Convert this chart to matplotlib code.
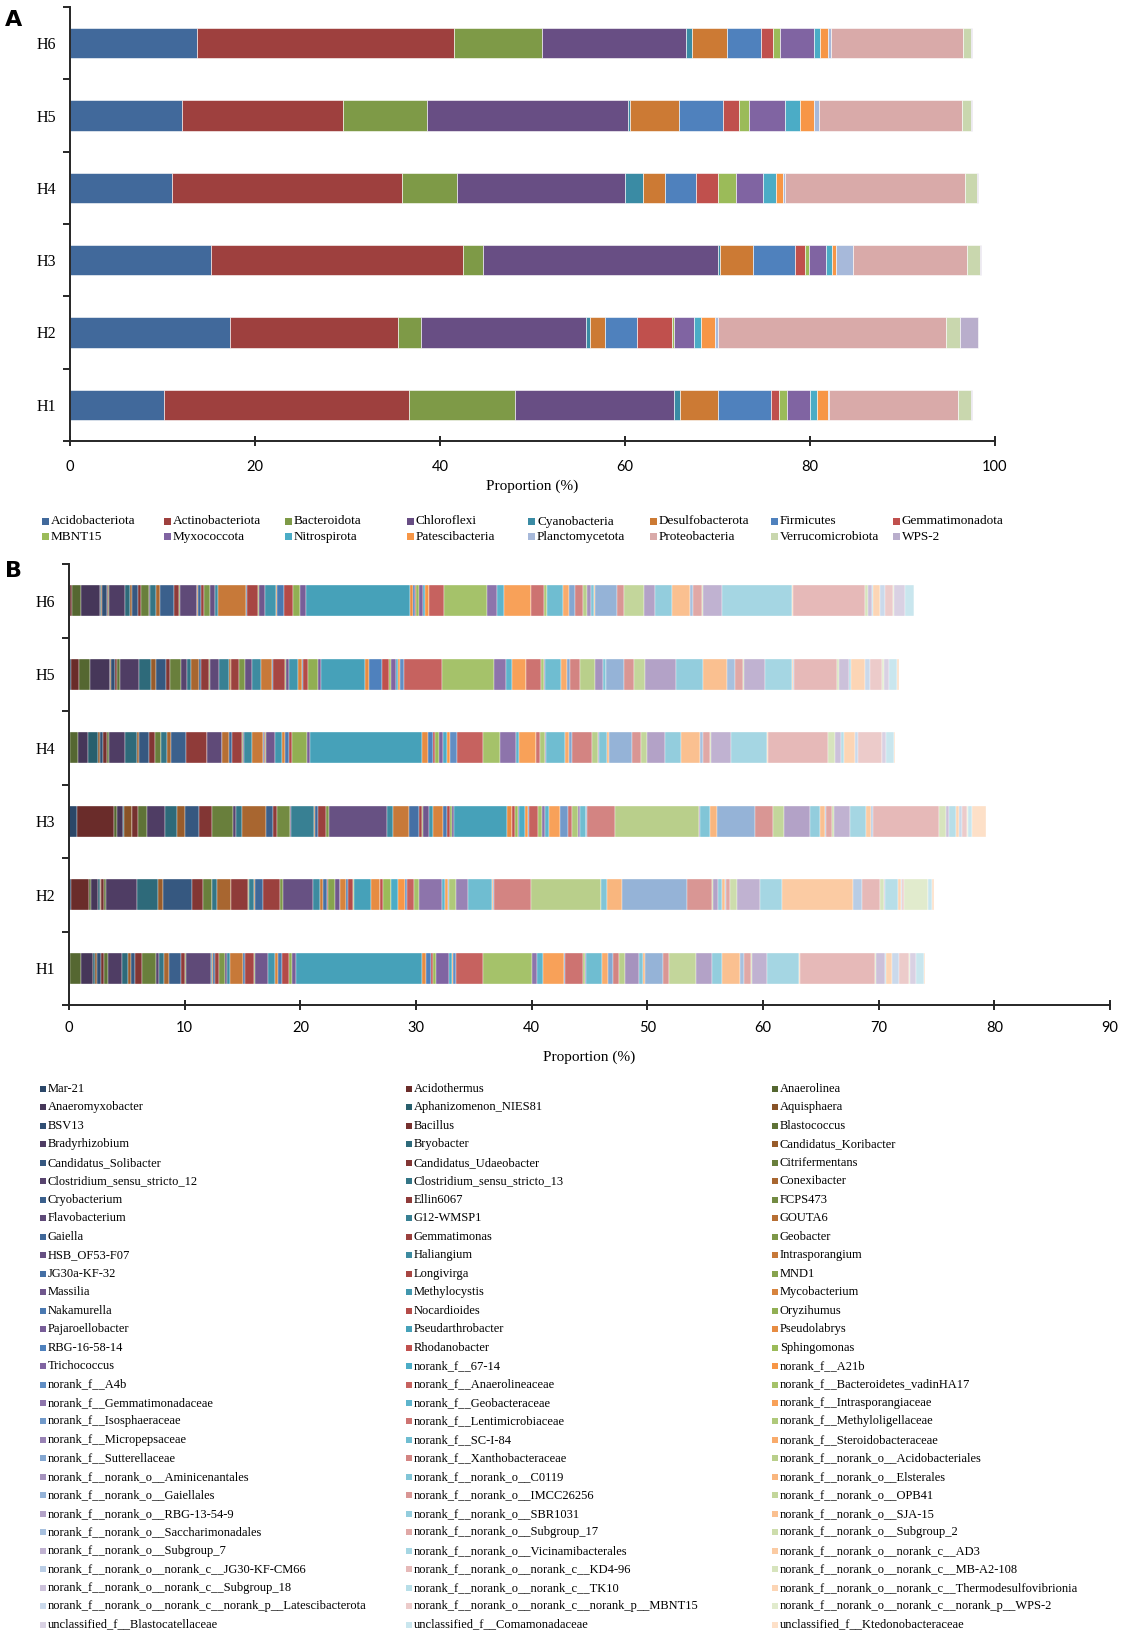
import matplotlib.pyplot as plt
import matplotlib.colors as mcolors
from matplotlib.patches import Rectangle
import numpy as np

W, H = 1125, 1637

samples = ['H1', 'H2', 'H3', 'H4', 'H5', 'H6']

# phylum level (panel A), proportion %
phyla = ['Acidobacteriota', 'Actinobacteriota', 'Bacteroidota', 'Chloroflexi',
         'Cyanobacteria', 'Desulfobacterota', 'Firmicutes', 'Gemmatimonadota',
         'MBNT15', 'Myxococcota', 'Nitrospirota', 'Patescibacteria',
         'Planctomycetota', 'Proteobacteria', 'Verrucomicrobiota', 'WPS-2']
phylum_H1 = [10.2, 26.5, 11.4, 17.2, 0.6, 4.2, 5.7, 0.9, 0.8, 2.5, 0.8, 1.1, 0.2, 13.9, 1.4, 0.1]
phylum_H2 = [17.3, 18.2, 2.5, 17.8, 0.4, 1.6, 3.5, 3.8, 0.2, 2.2, 0.7, 1.5, 0.4, 24.6, 1.5, 2.0]
phylum_H3 = [15.2, 27.3, 2.1, 25.5, 0.2, 3.5, 4.6, 1.1, 0.4, 1.8, 0.7, 0.4, 1.8, 12.4, 1.4, 0.1]
phylum_H4 = [11.0, 24.9, 5.9, 18.2, 1.9, 2.4, 3.4, 2.4, 1.9, 2.9, 1.4, 0.8, 0.2, 19.5, 1.3, 0.1]
phylum_H5 = [12.1, 17.4, 9.1, 21.7, 0.2, 5.3, 4.8, 1.7, 1.1, 3.9, 1.6, 1.5, 0.6, 15.4, 1.0, 0.1]
phylum_H6 = [13.7, 27.8, 9.5, 15.6, 0.6, 3.85, 3.65, 1.3, 0.8, 3.6, 0.7, 0.9, 0.3, 14.2, 0.9, 0.1]

# genus level (panel B), proportion %
genera = ['Mar-21', 'Acidothermus', 'Anaerolinea', 'Anaeromyxobacter', 'Aphanizomenon_NIES81',
          'Aquisphaera', 'BSV13', 'Bacillus', 'Blastococcus', 'Bradyrhizobium', 'Bryobacter',
          'Candidatus_Koribacter', 'Candidatus_Solibacter', 'Candidatus_Udaeobacter',
          'Citrifermentans', 'Clostridium_sensu_stricto_12', 'Clostridium_sensu_stricto_13',
          'Conexibacter', 'Cryobacterium', 'Ellin6067', 'FCPS473', 'Flavobacterium',
          'G12-WMSP1', 'GOUTA6', 'Gaiella', 'Gemmatimonas', 'Geobacter', 'HSB_OF53-F07',
          'Haliangium', 'Intrasporangium', 'JG30a-KF-32', 'Longivirga', 'MND1', 'Massilia',
          'Methylocystis', 'Mycobacterium', 'Nakamurella', 'Nocardioides', 'Oryzihumus',
          'Pajaroellobacter', 'Pseudarthrobacter', 'Pseudolabrys', 'RBG-16-58-14',
          'Rhodanobacter', 'Sphingomonas', 'Trichococcus', 'norank_f__67-14', 'norank_f__A21b',
          'norank_f__A4b', 'norank_f__Anaerolineaceae', 'norank_f__Bacteroidetes_vadinHA17',
          'norank_f__Gemmatimonadaceae', 'norank_f__Geobacteraceae', 'norank_f__Intrasporangiaceae',
          'norank_f__Isosphaeraceae', 'norank_f__Lentimicrobiaceae', 'norank_f__Methyloligellaceae',
          'norank_f__Micropepsaceae', 'norank_f__SC-I-84', 'norank_f__Steroidobacteraceae',
          'norank_f__Sutterellaceae', 'norank_f__Xanthobacteraceae',
          'norank_f__norank_o__Acidobacteriales', 'norank_f__norank_o__Aminicenantales',
          'norank_f__norank_o__C0119', 'norank_f__norank_o__Elsterales',
          'norank_f__norank_o__Gaiellales', 'norank_f__norank_o__IMCC26256',
          'norank_f__norank_o__OPB41', 'norank_f__norank_o__RBG-13-54-9',
          'norank_f__norank_o__SBR1031', 'norank_f__norank_o__SJA-15',
          'norank_f__norank_o__Saccharimonadales', 'norank_f__norank_o__Subgroup_17',
          'norank_f__norank_o__Subgroup_2', 'norank_f__norank_o__Subgroup_7',
          'norank_f__norank_o__Vicinamibacterales', 'norank_f__norank_o__norank_c__AD3',
          'norank_f__norank_o__norank_c__JG30-KF-CM66', 'norank_f__norank_o__norank_c__KD4-96',
          'norank_f__norank_o__norank_c__MB-A2-108', 'norank_f__norank_o__norank_c__Subgroup_18',
          'norank_f__norank_o__norank_c__TK10', 'norank_f__norank_o__norank_c__Thermodesulfovibrionia',
          'norank_f__norank_o__norank_c__norank_p__Latescibacterota',
          'norank_f__norank_o__norank_c__norank_p__MBNT15',
          'norank_f__norank_o__norank_c__norank_p__WPS-2',
          'unclassified_f__Blastocatellaceae', 'unclassified_f__Comamonadaceae',
          'unclassified_f__Ktedonobacteraceae']

genus_H1 = [0.08, 0.03, 0.93, 1.06, 0.12, 0.17, 0.40, 0.20, 0.35, 1.24,
            0.52, 0.29, 0.34, 0.58, 1.21, 0.23, 0.46, 0.40, 1.10, 0.34,
            0.05, 2.20, 0.05, 0.12, 0.12, 0.40, 0.46, 0.18, 0.29, 1.15,
            0.11, 0.81, 0.06, 1.15, 0.60, 0.29, 0.29, 0.61, 0.28, 0.35,
            10.92, 0.29, 0.43, 0.23, 0.23, 1.09, 0.26, 0.12, 0.23, 2.39,
            4.21, 0.40, 0.58, 1.78, 0.06, 1.56, 0.23, 0.05, 1.39, 0.52,
            0.40, 0.52, 0.57, 1.21, 0.35, 0.12, 1.61, 0.46, 2.36, 1.38,
            0.87, 1.61, 0.29, 0.58, 0.17, 1.27, 2.76, 0.05, 0.05, 6.47,
            0.11, 0.76, 0.11, 0.52, 0.57, 0.87, 0.06, 0.58, 0.63, 0.11]
genus_H2 = [0.17, 1.56, 0.14, 0.67, 0.14, 0.05, 0.05, 0.21, 0.18, 2.74,
            1.81, 0.40, 2.48, 1.01, 0.72, 0.05, 0.44, 1.15, 0.05, 1.48,
            0.05, 0.05, 0.42, 0.05, 0.73, 1.44, 0.23, 2.59, 0.63, 0.29,
            0.35, 0.05, 0.61, 0.43, 0.05, 0.47, 0.20, 0.43, 0.05, 0.05,
            1.43, 0.78, 0.05, 0.24, 0.63, 0.05, 0.62, 0.57, 0.20, 0.58,
            0.43, 1.96, 0.29, 0.29, 0.05, 0.05, 0.56, 1.07, 2.01, 0.15,
            0.05, 3.18, 6.05, 0.05, 0.46, 1.33, 5.64, 2.16, 0.05, 0.50,
            0.29, 0.29, 0.05, 0.35, 0.58, 2.04, 1.87, 6.20, 0.72, 1.55,
            0.38, 0.05, 1.19, 0.20, 0.10, 0.19, 2.04, 0.05, 0.36, 0.17]
genus_H3 = [0.72, 3.20, 0.20, 0.58, 0.05, 0.67, 0.05, 0.52, 0.78, 1.56,
            0.98, 0.69, 1.21, 1.12, 1.87, 0.23, 0.49, 2.07, 0.67, 0.29,
            1.15, 0.05, 2.05, 0.05, 0.30, 0.63, 0.32, 4.96, 0.52, 1.38,
            0.86, 0.29, 0.10, 0.48, 0.40, 0.87, 0.28, 0.29, 0.15, 0.20,
            4.55, 0.43, 0.05, 0.24, 0.29, 0.05, 0.53, 0.28, 0.05, 0.82,
            0.29, 0.28, 0.35, 0.95, 0.72, 0.29, 0.57, 0.15, 0.52, 0.05,
            0.05, 2.40, 7.29, 0.05, 0.93, 0.52, 3.37, 1.50, 1.00, 2.25,
            0.81, 0.43, 0.14, 0.47, 0.22, 1.39, 1.38, 0.40, 0.17, 5.71,
            0.63, 0.23, 0.58, 0.29, 0.29, 0.40, 0.06, 0.05, 0.30, 1.20]
genus_H4 = [0.05, 0.06, 0.64, 0.89, 0.87, 0.17, 0.29, 0.34, 0.18, 1.35,
            1.04, 0.17, 0.89, 0.49, 0.49, 0.05, 0.47, 0.38, 1.29, 1.79,
            0.05, 1.24, 0.05, 0.59, 0.26, 0.83, 0.15, 0.05, 0.67, 1.01,
            0.05, 0.12, 0.05, 0.78, 0.58, 0.32, 0.29, 0.25, 1.36, 0.23,
            9.71, 0.49, 0.40, 0.24, 0.28, 0.41, 0.34, 0.23, 0.64, 2.24,
            1.44, 1.36, 0.32, 1.41, 0.05, 0.32, 0.46, 0.05, 1.68, 0.29,
            0.34, 1.68, 0.54, 0.10, 0.68, 0.17, 1.96, 0.81, 0.52, 1.58,
            1.30, 1.72, 0.18, 0.69, 0.05, 1.73, 3.12, 0.05, 0.05, 5.20,
            0.57, 0.52, 0.29, 0.92, 0.23, 2.08, 0.05, 0.29, 0.75, 0.06]
genus_H5 = [0.15, 0.74, 0.92, 1.73, 0.03, 0.03, 0.38, 0.14, 0.29, 1.61,
            1.10, 0.37, 0.89, 0.38, 0.92, 0.52, 0.37, 0.64, 0.23, 0.66,
            0.06, 0.80, 0.84, 0.17, 0.03, 0.66, 0.52, 0.66, 0.75, 0.98,
            0.03, 1.10, 0.03, 0.29, 0.77, 0.32, 0.14, 0.41, 0.86, 0.23,
            3.87, 0.28, 1.16, 0.57, 0.20, 0.41, 0.17, 0.23, 0.35, 3.28,
            4.44, 1.04, 0.57, 1.15, 0.05, 1.28, 0.29, 0.05, 1.39, 0.52,
            0.29, 0.80, 1.33, 0.69, 0.23, 0.05, 1.50, 0.93, 0.94, 2.68,
            2.36, 2.08, 0.69, 0.69, 0.05, 1.79, 2.40, 0.05, 0.05, 3.79,
            0.17, 0.81, 0.23, 1.21, 0.40, 1.04, 0.17, 0.46, 0.63, 0.21]
genus_H6 = [0.05, 0.21, 0.78, 1.67, 0.08, 0.06, 0.43, 0.05, 0.13, 1.38,
            0.46, 0.17, 0.47, 0.25, 0.75, 0.10, 0.45, 0.35, 1.21, 0.46,
            0.05, 1.47, 0.05, 0.10, 0.20, 0.32, 0.52, 0.40, 0.26, 2.39,
            0.08, 1.01, 0.05, 0.53, 0.95, 0.11, 0.58, 0.78, 0.61, 0.48,
            9.03, 0.23, 0.17, 0.12, 0.22, 0.41, 0.17, 0.29, 0.06, 1.26,
            3.75, 0.81, 0.63, 2.31, 0.06, 1.09, 0.23, 0.05, 1.33, 0.52,
            0.58, 0.63, 0.35, 0.34, 0.32, 0.06, 1.95, 0.55, 1.73, 0.95,
            1.44, 1.58, 0.29, 0.78, 0.05, 1.65, 6.08, 0.05, 0.05, 6.18,
            0.28, 0.35, 0.05, 0.61, 0.44, 0.72, 0.05, 0.95, 0.78, 0.06]

phylum_data = [phylum_H1, phylum_H2, phylum_H3, phylum_H4, phylum_H5, phylum_H6]
genus_data = [genus_H1, genus_H2, genus_H3, genus_H4, genus_H5, genus_H6]

# colours (Excel-like office palette)
phylum_colors = ['#41699B', '#9E403E', '#7E9A47', '#684E84', '#3A8BA4', '#CC7A34',
                 '#4F81BD', '#C0504D', '#9BBB59', '#8064A2', '#4BACC6', '#F79646',
                 '#A7B9DA', '#D9AAA9', '#C9D7AE', '#B9AECC']
base_colors = ['#4F81BD', '#C0504D', '#9BBB59', '#8064A2', '#4BACC6', '#F79646']


def genus_color(i):
    rgb = np.array(mcolors.to_rgb(base_colors[i % 6]))
    lvl = i // 6
    if lvl < 7:
        rgb = rgb * (0.55 + 0.45 * lvl / 7)
    else:
        rgb = rgb + (1 - rgb) * 0.7 * (lvl - 7) / 7
    return rgb


genus_colors = [genus_color(i) for i in range(len(genera))]

serif = 'Liberation Serif'
sans = 'Lato'

fig = plt.figure(figsize=(W / 100, H / 100), dpi=100)


def style_axes(ax, xmax, step, tickpad, labelpad):
    ax.set_xlim(0, xmax)
    ax.set_ylim(-0.5, 5.5)
    ax.spines['top'].set_visible(False)
    ax.spines['right'].set_visible(False)
    for s in ['left', 'bottom']:
        ax.spines[s].set_linewidth(1.4)
        ax.spines[s].set_color('#262626')
    ax.set_xticks(np.arange(0, xmax + 1, step))
    ax.set_yticks(range(6))
    ax.set_yticklabels(samples, fontfamily=serif, fontsize=11.5)
    ax.set_yticks(np.arange(-0.5, 6, 1), minor=True)
    ax.tick_params(axis='y', which='major', length=0, pad=10)
    ax.tick_params(axis='y', which='minor', length=5, width=1.4, color='#262626')
    ax.tick_params(axis='x', direction='inout', length=7, width=1.4,
                   color='#262626', pad=tickpad)
    for t in ax.get_xticklabels():
        t.set_fontfamily(sans)
        t.set_fontsize(10.5)
    ax.set_xlabel('Proportion (%)', fontfamily=serif, fontsize=11, labelpad=labelpad)


def stacked(ax, data, colors, lw):
    y = np.arange(len(samples))
    left = np.zeros(len(samples))
    for j in range(len(colors)):
        vals = np.array([d[j] for d in data])
        ax.barh(y, vals, left=left, height=0.42, color=colors[j],
                edgecolor='white', linewidth=lw)
        left += vals


# panel A
axA = fig.add_axes([70 / W, 1 - 441 / H, 925 / W, 434 / H])
stacked(axA, phylum_data, phylum_colors, 0.4)
style_axes(axA, 100, 20, tickpad=10, labelpad=4)
fig.text(5 / W, 1 - 20 / H, 'A', fontsize=16, fontweight='bold', va='center')

# panel A legend, 8 columns x 2 rows, filled row by row
for k, name in enumerate(phyla):
    x = 42 + (k % 8) * 121.5
    y = 521.5 + (k // 8) * 15.3
    fig.add_artist(Rectangle((x / W, 1 - (y + 3.5) / H), 7 / W, 7 / H,
                             transform=fig.transFigure, facecolor=phylum_colors[k],
                             edgecolor='none'))
    fig.text((x + 9) / W, 1 - y / H, name, fontfamily=serif, fontsize=9.5,
             va='center', ha='left')

# panel B
axB = fig.add_axes([69 / W, 1 - 1005 / H, 1041 / W, 441 / H])
stacked(axB, genus_data, genus_colors, 0.25)
style_axes(axB, 90, 10, tickpad=8, labelpad=11)
fig.text(5 / W, 1 - 571 / H, 'B', fontsize=16, fontweight='bold', va='center')

# panel B legend, 3 columns x 30 rows, filled row by row
col_x = [40, 406, 772]
for k, name in enumerate(genera):
    x = col_x[k % 3]
    y = 1089 + (k // 3) * 18.47
    fig.add_artist(Rectangle((x / W, 1 - (y + 3) / H), 6 / W, 6 / H,
                             transform=fig.transFigure, facecolor=genus_colors[k],
                             edgecolor='none'))
    fig.text((x + 8) / W, 1 - y / H, name, fontfamily=serif, fontsize=9,
             va='center', ha='left')

fig.savefig('out.png', dpi=100)
